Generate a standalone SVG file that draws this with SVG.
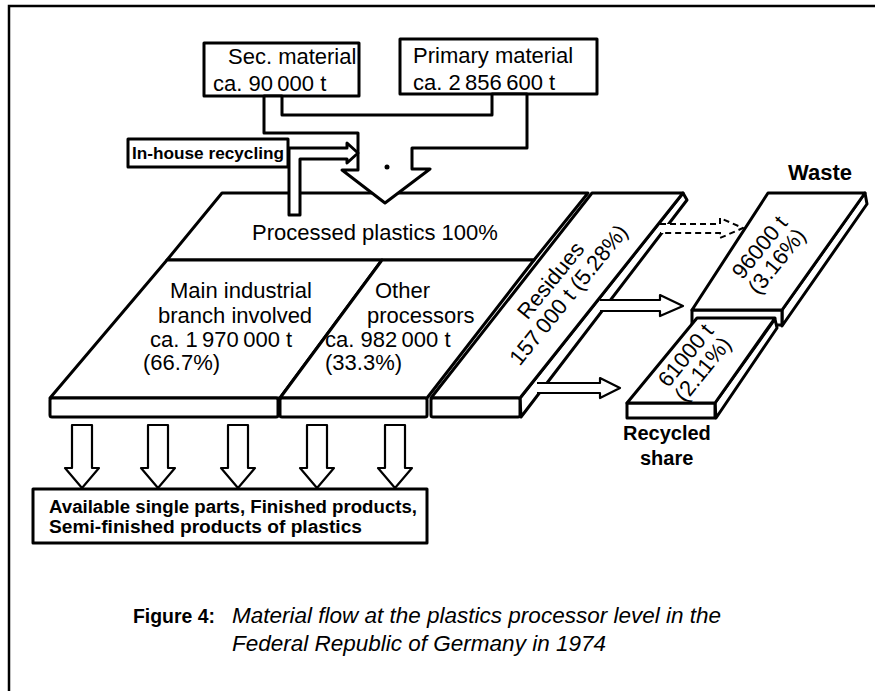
<svg xmlns="http://www.w3.org/2000/svg" width="875" height="691" viewBox="0 0 875 691">
<style>
  .ln { fill: #fff; stroke: #000; stroke-width: 3; stroke-linejoin: round; }
  .thin { fill: #fff; stroke: #000; stroke-width: 2.2; stroke-linejoin: round; }
  .dash { fill: #fff; stroke: #000; stroke-width: 2; stroke-dasharray: 6 4; }
  .t { font-family: "Liberation Sans", Arial, sans-serif; fill: #000; }
  .lbl { font-size: 22px; }
  .b { font-weight: bold; }
  .cap { font-size: 22.5px; font-style: italic; }
</style>
<defs>
  <path id="down" d="M-10,0 V43 H-17 L0,63 L17,43 H10 V0 Z" class="thin"/>
</defs>
<rect x="0" y="0" width="875" height="691" fill="#fff"/>
<g id="frame" fill="none" stroke="#000" stroke-width="2.5">
  <path d="M9,691 V6 H875"/>
</g>

<g id="sec-material">
  <rect x="204" y="43" width="155" height="53" class="ln"/>
  <text class="t lbl" x="228" y="64">Sec. material</text>
  <text class="t lbl" x="213" y="91">ca. 90&#8201;000 t</text>
</g>
<g id="primary-material">
  <rect x="400" y="39" width="197" height="55" class="ln"/>
  <text class="t lbl" x="413" y="63">Primary material</text>
  <text class="t lbl" x="413" y="90">ca. 2&#8201;856&#8201;600 t</text>
</g>
<g id="in-house-recycling">
  <rect x="128" y="139" width="160" height="28" class="ln"/>
  <text class="t b" x="132" y="159" font-size="16" textLength="152" lengthAdjust="spacingAndGlyphs">In-house recycling</text>
</g>

<g id="platform">
  <g id="processed-plastics">
    <path d="M222,193 H588 L534,260 H167 Z" class="ln"/>
    <text class="t lbl" x="252" y="240">Processed plastics 100%</text>
  </g>
  <g id="main-branch">
    <path d="M167,260 H382 L280,398 H50 Z" class="ln"/>
    <text class="t lbl" x="170" y="298">Main industrial</text>
    <text class="t lbl" x="158" y="323">branch involved</text>
    <text class="t lbl" x="150" y="347">ca. 1&#8201;970&#8201;000 t</text>
    <text class="t lbl" x="143" y="370">(66.7%)</text>
  </g>
  <g id="other-processors">
    <path d="M382,260 H534 L427,398 H280 Z" class="ln"/>
    <text class="t lbl" x="375" y="298">Other</text>
    <text class="t lbl" x="367" y="323">processors</text>
    <text class="t lbl" x="325" y="347">ca. 982&#8201;000 t</text>
    <text class="t lbl" x="325" y="370">(33.3%)</text>
  </g>
  <g id="residues">
    <path d="M520,398 L683,193 L687,200 L521,417 Z" class="ln"/>
    <path d="M592,193 H683 L520,398 H431 Z" class="ln"/>
    <g transform="translate(565,292) rotate(-51)">
      <text class="t lbl" x="0" y="-11" text-anchor="middle">Residues</text>
      <text class="t lbl" x="0" y="12" text-anchor="middle">157&#8201;000 t (5.28%)</text>
    </g>
  </g>
  <g id="front-face">
    <rect x="50" y="398" width="228" height="19" rx="2" class="ln"/>
    <rect x="280" y="398" width="147" height="19" rx="2" class="ln"/>
    <rect x="431" y="398" width="89" height="19" rx="2" class="ln"/>
  </g>
</g>

<g id="waste">
  <text class="t lbl b" x="788" y="180" font-size="21">Waste</text>
  <path d="M782,310 L865,193 L867,204 L782,326 Z" class="ln"/>
  <rect x="692" y="310" width="90" height="15" class="ln"/>
  <path d="M768,193 H865 L782,310 H692 Z" class="ln"/>
  <g transform="translate(774,259) rotate(-51)">
    <text class="t lbl" x="0" y="-11" text-anchor="middle">96000 t</text>
    <text class="t lbl" x="0" y="11" text-anchor="middle">(3.16%)</text>
  </g>
</g>

<g id="recycled-share">
  <path d="M715,403 L775,319 L777,328 L716,418 Z" class="ln"/>
  <rect x="627" y="403" width="88" height="15" class="ln"/>
  <path d="M697,318 H775 L715,403 H627 Z" class="ln"/>
  <g transform="translate(700,367) rotate(-51)">
    <text class="t lbl" x="0" y="-11" text-anchor="middle">61000 t</text>
    <text class="t lbl" x="0" y="11" text-anchor="middle">(2.11%)</text>
  </g>
  <text class="t b" x="623" y="440" font-size="20">Recycled</text>
  <text class="t b" x="640" y="465" font-size="20">share</text>
</g>

<g id="products">
  <rect x="33" y="489" width="394" height="54" class="ln"/>
  <text class="t b" x="49" y="513" font-size="18" textLength="368" lengthAdjust="spacingAndGlyphs">Available single parts, Finished products,</text>
  <text class="t b" x="49" y="533" font-size="18" textLength="313" lengthAdjust="spacingAndGlyphs">Semi-finished products of plastics</text>
</g>

<g id="connectors">
  <path d="M264,96 V133 H358 V170 H342 L385,203 L430,169 H412 V148 H527 V94 H492 V115 H282 V96 Z" class="ln"/>
  <path d="M289,215 V148 H347 V143 L358,153 L347,163 V159 H300 V215 Z" class="ln"/>
  <circle cx="387" cy="167" r="2.5" fill="#000"/>
  <path d="M660,224 H720 V218 L743,228 L720,238 V233 H660" class="dash"/>
  <path d="M600,300 H660 V295 L683,306 L660,316 V311 H600" class="thin"/>
  <path d="M537,383 H600 V378 L620,388 L600,398 V393 H537" class="thin"/>
  <use href="#down" x="82" y="425"/>
  <use href="#down" x="158" y="425"/>
  <use href="#down" x="238" y="425"/>
  <use href="#down" x="317" y="425"/>
  <use href="#down" x="395" y="425"/>
</g>

<g id="caption">
  <text class="t b" x="133" y="623" font-size="20" textLength="82" lengthAdjust="spacingAndGlyphs">Figure 4:</text>
  <text class="t cap" x="232" y="623">Material flow at the plastics processor level in the</text>
  <text class="t cap" x="232" y="651">Federal Republic of Germany in 1974</text>
</g>
</svg>
